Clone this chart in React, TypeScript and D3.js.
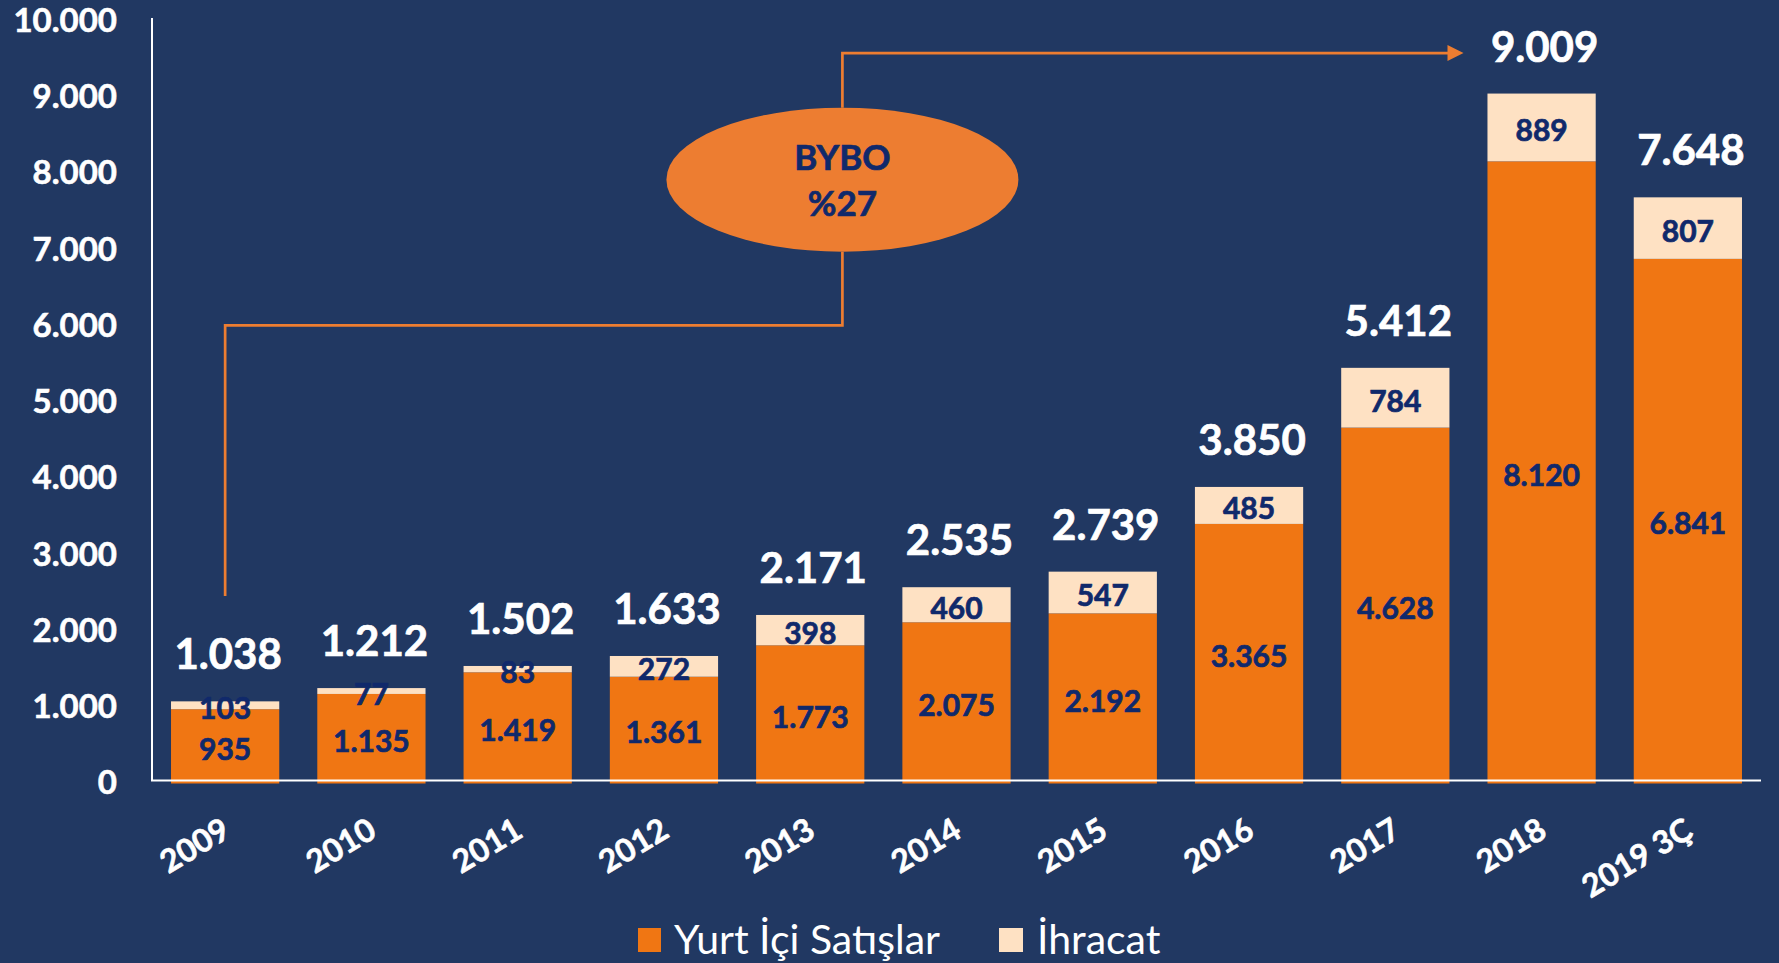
import React from "react";
import * as d3 from "d3";

const years = ["2009", "2010", "2011", "2012", "2013", "2014", "2015", "2016", "2017", "2018", "2019 3Ç"];
const domestic = [935, 1135, 1419, 1361, 1773, 2075, 2192, 3365, 4628, 8120, 6841];
const exportsV = [103, 77, 83, 272, 398, 460, 547, 485, 784, 889, 807];
const totals = [1038, 1212, 1502, 1633, 2171, 2535, 2739, 3850, 5412, 9009, 7648];
const yTicks = [0, 1000, 2000, 3000, 4000, 5000, 6000, 7000, 8000, 9000, 10000];
const seriesNames = ["Yurt İçi Satışlar", "İhracat"];

const W = 1779;
const H = 963;
const BG = "#213862";
const ORANGE = "#F07613";
const PEACH = "#FEE1C3";
const NAVY = "#10296B";
const LINE = "#ED7D31";
const FONT = "Lato, 'Open Sans', sans-serif";

const fmt = d3.formatLocale({ decimal: ",", thousands: ".", grouping: [3], currency: ["", ""] }).format(",d");

const bold = (color: string, w = 0.7) => ({
  fill: color,
  stroke: color,
  strokeWidth: w,
  paintOrder: "stroke" as const,
  fontWeight: 700,
});

export default function App() {
  const x = d3.scaleBand<string>().domain(years).range([152, 1761]).paddingInner(0.26).paddingOuter(0.13);
  const y = d3.scaleLinear().domain([0, 10000]).range([780.5, 18]);
  const bw = x.bandwidth();
  const cx = (i: number) => (x(years[i]) as number) + bw / 2;

  // annotation geometry (derived from scales)
  const startX = cx(0);
  const midX = cx(4) + 0.22 * x.step();
  const ellY = y(7880);
  const rx = 176;
  const ry = 72;
  const arrowTip = (x(years[9]) as number) - 24;
  const bracketPath = `M${startX},${y(2420)} V${y(5970)} H${midX} V${ellY + ry}`;
  const topPath = `M${midX},${ellY - ry} V${y(9540)} H${arrowTip - 14}`;

  return (
    <svg width={W} height={H} style={{ position: "absolute", left: 0, top: 0, display: "block" }} fontFamily={FONT}>
      <rect width={W} height={H} fill={BG} />

      {/* bars */}
      {years.map((yr, i) => {
        const x0 = x(yr) as number;
        return (
          <g key={yr}>
            <rect x={x0} y={y(domestic[i])} width={bw} height={y(0) + 3 - y(domestic[i])} fill={ORANGE} />
            <rect x={x0} y={y(totals[i])} width={bw} height={y(domestic[i]) - y(totals[i])} fill={PEACH} />
          </g>
        );
      })}

      {/* axes */}
      <line x1={152} x2={152} y1={y(10000)} y2={y(0)} stroke="#fff" strokeWidth={2} />
      <line x1={151} x2={1761} y1={y(0)} y2={y(0)} stroke="#fff" strokeWidth={2} />

      {yTicks.map((t) => (
        <text key={t} x={117} y={y(t) + 2} dy="0.36em" textAnchor="end" fontSize={33} {...bold("#fff", 0.6)}>
          {fmt(t)}
        </text>
      ))}

      {years.map((yr, i) => (
        <text
          key={yr}
          transform={`translate(${cx(i) + 7},${836}) rotate(-31)`}
          textAnchor="end"
          fontSize={32}
          {...bold("#fff", 0.6)}
        >
          {yr}
        </text>
      ))}

      {/* value labels */}
      {years.map((yr, i) => (
        <g key={"l" + yr} textAnchor="middle">
          <text x={cx(i)} y={(y(0) + y(domestic[i])) / 2 + 4} dy="0.36em" fontSize={30} {...bold(NAVY, 0.7)}>
            {fmt(domestic[i])}
          </text>
          <text x={cx(i)} y={(y(domestic[i]) + y(totals[i])) / 2 + 3} dy="0.36em" fontSize={30} {...bold(NAVY, 0.7)}>
            {fmt(exportsV[i])}
          </text>
          <text x={cx(i) + 3} y={y(totals[i]) - 32} fontSize={42} {...bold("#fff", 0.7)}>
            {fmt(totals[i])}
          </text>
        </g>
      ))}

      {/* annotation */}
      <path d={bracketPath} fill="none" stroke={LINE} strokeWidth={2.7} />
      <path d={topPath} fill="none" stroke={LINE} strokeWidth={2.7} />
      <path d={`M${arrowTip},${y(9540)} l-16,-8 v16 z`} fill={LINE} />
      <ellipse cx={midX} cy={ellY} rx={rx} ry={ry} fill={LINE} />
      <text x={midX} y={ellY - 22} dy="0.36em" textAnchor="middle" fontSize={35} {...bold(NAVY, 0.7)}>
        BYBO
      </text>
      <text x={midX} y={ellY + 24} dy="0.36em" textAnchor="middle" fontSize={35} {...bold(NAVY, 0.7)}>
        %27
      </text>

      {/* legend */}
      <rect x={638} y={928} width={23} height={24} fill={ORANGE} />
      <text x={674} y={954} fill="#fff" fontSize={41}>
        {seriesNames[0]}
      </text>
      <rect x={999} y={928} width={24} height={24} fill={PEACH} />
      <text x={1037} y={954} fill="#fff" fontSize={41}>
        {seriesNames[1]}
      </text>
    </svg>
  );
}
